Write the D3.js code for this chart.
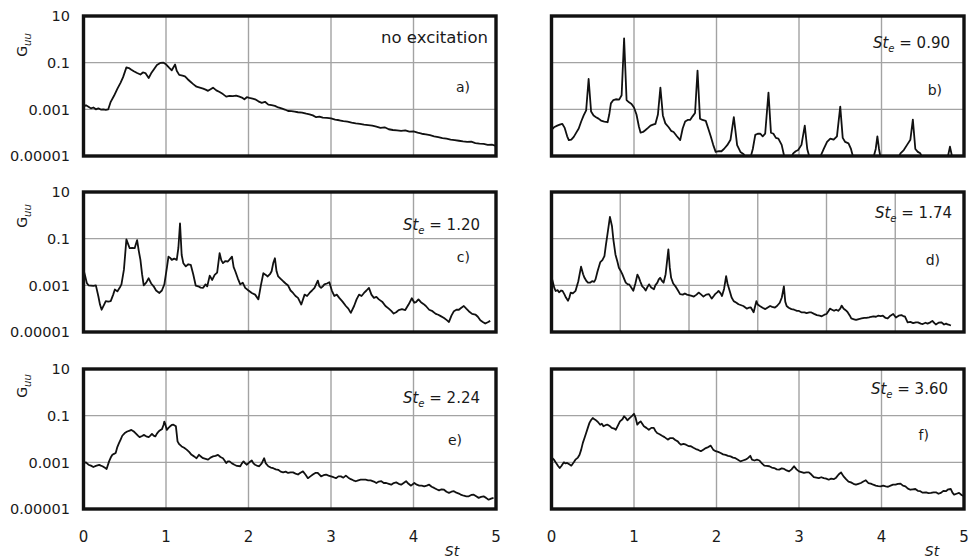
<!DOCTYPE html>
<html>
<head>
<meta charset="utf-8">
<script src="https://cdnjs.cloudflare.com/ajax/libs/d3/7.8.5/d3.min.js"></script>
<style>
  body { margin: 0; background: #fff; }
  svg { display: block; }
  text { font-family: "DejaVu Sans", sans-serif; fill: #1a1a1a; }
</style>
</head>
<body>
<svg width="969" height="558"></svg>
<script>
// axis ticks
const yTicks = [10, 0.1, 0.001, 0.00001];
const yTickLabels = ["10", "0.1", "0.001", "0.00001"];
const xTicks = [0, 1, 2, 3, 4, 5];

// a) no excitation
const stA = [0,0.03,0.06,0.09,0.12,0.15,0.18,0.21,0.24,0.27,0.30,0.33,0.37,0.41,0.45,0.48,0.52,0.55,0.58,0.61,0.65,0.69,0.72,0.75,0.79,0.82,0.85,0.89,0.93,0.97,1.00,1.04,1.07,1.11,1.13,1.16,1.20,1.23,1.26,1.29,1.33,1.37,1.41,1.45,1.48,1.51,1.54,1.57,1.61,1.65,1.69,1.73,1.77,1.81,1.85,1.89,1.92,1.95,1.98,2.01,2.05,2.08,2.12,2.16,2.20,2.24,2.28,2.32,2.36,2.40,2.44,2.48,2.52,2.56,2.60,2.65,2.70,2.74,2.78,2.82,2.86,2.90,2.95,3.00,3.05,3.10,3.15,3.20,3.25,3.30,3.35,3.40,3.45,3.50,3.55,3.60,3.65,3.70,3.75,3.80,3.85,3.90,3.95,4.00,4.05,4.10,4.15,4.20,4.25,4.30,4.35,4.40,4.45,4.50,4.55,4.60,4.65,4.70,4.75,4.80,4.85,4.90,4.95,5.00];
const guuA = [0.0013,0.0015,0.0013,0.0011,0.0012,0.001,0.0011,0.00098,0.001,0.00095,0.001,0.0021,0.0038,0.0075,0.014,0.024,0.063,0.059,0.05,0.043,0.036,0.031,0.038,0.036,0.022,0.035,0.05,0.08,0.097,0.1,0.085,0.06,0.047,0.083,0.045,0.03,0.028,0.026,0.02,0.016,0.012,0.0093,0.0085,0.0077,0.007,0.0062,0.0072,0.0085,0.0065,0.0055,0.0045,0.0035,0.0038,0.0037,0.0039,0.0035,0.0032,0.0027,0.0033,0.0031,0.0029,0.0027,0.0022,0.0019,0.0021,0.0016,0.0015,0.0014,0.0012,0.0011,0.00098,0.00085,0.00083,0.0008,0.00075,0.00072,0.00065,0.00061,0.00055,0.00046,0.00049,0.00044,0.00043,0.00041,0.00036,0.00034,0.00031,0.0003,0.00027,0.00025,0.00024,0.00022,0.00021,0.0002,0.00018,0.00016,0.00017,0.00014,0.00013,0.000126,0.00012,0.000125,0.00011,0.000114,0.0001,0.00009,0.000085,0.000078,0.00007,0.000065,0.000058,0.000055,0.00005,0.000048,0.000045,0.000042,0.00004,0.000041,0.000036,0.000034,0.000033,0.00003,0.000031,0.000027];

// b) St_e = 0.90
const stB = [0,0.03,0.07,0.10,0.13,0.16,0.19,0.21,0.24,0.27,0.30,0.33,0.36,0.39,0.42,0.45,0.48,0.51,0.54,0.57,0.60,0.64,0.68,0.70,0.72,0.75,0.78,0.82,0.85,0.88,0.91,0.94,0.97,1.00,1.03,1.06,1.08,1.11,1.14,1.17,1.20,1.23,1.26,1.29,1.32,1.35,1.38,1.42,1.45,1.48,1.52,1.56,1.59,1.62,1.65,1.68,1.71,1.74,1.77,1.80,1.83,1.87,1.90,1.93,1.96,1.99,2.03,2.06,2.09,2.13,2.17,2.21,2.25,2.29,2.33,2.36,2.41,2.44,2.47,2.50,2.53,2.56,2.59,2.63,2.66,2.69,2.72,2.75,2.79,2.82,2.84,2.90,2.93,2.96,2.99,3.03,3.07,3.10,3.13,3.20,3.25,3.30,3.34,3.38,3.42,3.46,3.50,3.53,3.56,3.60,3.63,3.66,3.90,3.93,3.95,3.97,3.99,4.20,4.23,4.27,4.31,4.35,4.38,4.41,4.44,4.47,4.50,4.80,4.83,4.86,4.90];
const guuB = [0.00013,0.00017,0.0002,0.00022,0.00024,0.00016,0.00007,0.000048,0.00005,0.000066,0.0001,0.00015,0.0003,0.00055,0.0009,0.02,0.0008,0.00054,0.00046,0.0004,0.00033,0.0003,0.00028,0.0006,0.0018,0.0025,0.0027,0.0026,0.004,1.1,0.0025,0.002,0.0017,0.0012,0.0006,0.00018,0.0001,0.000107,0.00013,0.00016,0.0002,0.00022,0.00024,0.0006,0.0085,0.00055,0.00025,0.00017,0.00012,0.000107,0.00007,0.000048,0.00015,0.0003,0.00035,0.00035,0.0005,0.0007,0.046,0.0004,0.00035,0.00032,0.00015,0.00007,0.00003,0.000015,0.000016,0.000016,0.00002,0.000029,0.00005,0.00046,0.000029,0.000015,0.000012,0.000008,0.000008,0.00002,0.00008,0.00009,0.00009,0.00007,0.00009,0.0052,0.0001,0.00009,0.00006,0.000056,0.00003,0.00001,0.000008,0.000008,0.000013,0.000016,0.000018,0.00003,0.0002,0.00002,0.000008,0.000008,0.000008,0.00002,0.00004,0.000056,0.00005,0.00007,0.0013,0.00006,0.00004,0.000035,0.00002,0.000008,0.000008,0.00002,0.00007,0.00002,0.000008,0.000008,0.000013,0.000018,0.00003,0.00005,0.00036,0.00002,0.000015,0.000013,0.000008,0.000008,0.000025,0.000008,0.000008];

// c) St_e = 1.20
const stC = [0,0.02,0.04,0.06,0.09,0.12,0.15,0.18,0.20,0.22,0.25,0.27,0.30,0.33,0.36,0.38,0.41,0.44,0.46,0.49,0.52,0.54,0.56,0.59,0.62,0.65,0.67,0.69,0.71,0.73,0.76,0.79,0.82,0.85,0.88,0.92,0.95,0.98,1.01,1.03,1.05,1.07,1.10,1.13,1.15,1.17,1.19,1.21,1.24,1.27,1.30,1.33,1.36,1.39,1.42,1.45,1.48,1.50,1.53,1.56,1.59,1.62,1.65,1.67,1.69,1.72,1.75,1.78,1.80,1.82,1.84,1.87,1.90,1.93,1.96,2.00,2.04,2.08,2.12,2.15,2.18,2.21,2.23,2.26,2.28,2.30,2.32,2.34,2.36,2.39,2.42,2.45,2.48,2.51,2.54,2.57,2.60,2.64,2.68,2.71,2.74,2.77,2.80,2.84,2.86,2.88,2.90,2.92,2.95,2.98,3.01,3.04,3.07,3.10,3.14,3.18,3.21,3.24,3.28,3.31,3.34,3.37,3.40,3.43,3.46,3.49,3.52,3.55,3.58,3.62,3.66,3.70,3.73,3.76,3.79,3.82,3.86,3.90,3.94,3.98,4.01,4.03,4.06,4.09,4.12,4.15,4.19,4.23,4.27,4.30,4.33,4.37,4.40,4.43,4.46,4.49,4.52,4.55,4.58,4.61,4.64,4.67,4.71,4.75,4.78,4.81,4.84,4.87,4.90,4.93];
const guuC = [0.0047,0.0025,0.00126,0.001,0.00098,0.00095,0.001,0.00034,0.00015,0.00009,0.00015,0.00021,0.0002,0.00021,0.0004,0.00066,0.00055,0.0008,0.0011,0.0047,0.093,0.06,0.039,0.04,0.039,0.087,0.03,0.0123,0.003,0.001,0.0013,0.002,0.0012,0.00091,0.0006,0.00047,0.0006,0.0011,0.0055,0.017,0.015,0.0123,0.014,0.0123,0.04,0.45,0.02,0.0089,0.0065,0.008,0.0076,0.003,0.00098,0.00091,0.0008,0.00078,0.0011,0.0009,0.0026,0.0017,0.0028,0.0035,0.024,0.012,0.0089,0.011,0.0105,0.014,0.017,0.006,0.004,0.002,0.0011,0.0013,0.00078,0.0006,0.00047,0.0004,0.00025,0.001,0.0033,0.0028,0.0024,0.003,0.004,0.009,0.0145,0.004,0.0024,0.0019,0.0015,0.0012,0.00098,0.0006,0.00047,0.00035,0.00029,0.00015,0.0004,0.00035,0.00047,0.0006,0.00078,0.0016,0.0009,0.00078,0.0009,0.0011,0.0012,0.00135,0.0006,0.00035,0.0004,0.00029,0.0002,0.00013,0.0001,0.000066,0.00013,0.00025,0.0004,0.00035,0.00047,0.0006,0.00078,0.0004,0.00029,0.00032,0.00025,0.0002,0.00013,0.0001,0.00008,0.000062,0.00007,0.000087,0.000095,0.000087,0.00015,0.00028,0.00018,0.00019,0.00025,0.00019,0.00016,0.00013,0.00009,0.000078,0.00006,0.000055,0.000048,0.00004,0.000033,0.000027,0.00005,0.000078,0.00009,0.00009,0.00011,0.00013,0.0001,0.000078,0.00006,0.000056,0.000045,0.000032,0.000027,0.000023,0.000026,0.00003];

// d) St_e = 1.74 (this panel's axis runs 0..6)
const stD = [0,0.01,0.04,0.06,0.09,0.11,0.14,0.16,0.19,0.21,0.24,0.26,0.28,0.31,0.35,0.39,0.43,0.46,0.48,0.51,0.53,0.56,0.59,0.62,0.64,0.67,0.71,0.74,0.77,0.79,0.81,0.85,0.88,0.90,0.93,0.96,0.98,1.01,1.03,1.06,1.08,1.11,1.13,1.16,1.19,1.22,1.25,1.27,1.29,1.32,1.34,1.37,1.40,1.42,1.45,1.49,1.51,1.54,1.56,1.58,1.61,1.63,1.66,1.70,1.72,1.74,1.77,1.80,1.84,1.87,1.91,1.94,1.97,2.00,2.04,2.07,2.11,2.14,2.17,2.21,2.25,2.29,2.33,2.36,2.38,2.41,2.43,2.46,2.48,2.51,2.54,2.56,2.59,2.62,2.65,2.69,2.72,2.76,2.79,2.82,2.84,2.87,2.90,2.94,2.96,2.98,3.00,3.03,3.07,3.11,3.14,3.18,3.21,3.25,3.28,3.32,3.35,3.38,3.40,3.42,3.45,3.49,3.53,3.57,3.60,3.64,3.68,3.71,3.75,3.78,3.82,3.86,3.90,3.93,3.97,4.00,4.03,4.05,4.08,4.11,4.14,4.17,4.20,4.22,4.25,4.27,4.29,4.31,4.34,4.36,4.40,4.43,4.47,4.51,4.55,4.58,4.62,4.65,4.68,4.72,4.75,4.79,4.82,4.86,4.89,4.93,4.97,5.01,5.05,5.09,5.12,5.14,5.16,5.18,5.22,5.26,5.30,5.33,5.37,5.40,5.44,5.47,5.51,5.54,5.57,5.59,5.63,5.67,5.71,5.74,5.76,5.79,5.81];
const guuD = [0.0025,0.0018,0.0008,0.00057,0.00062,0.0005,0.0006,0.00058,0.0004,0.0003,0.00022,0.0003,0.00049,0.00045,0.00058,0.0015,0.0063,0.003,0.0021,0.0015,0.0013,0.0013,0.0015,0.0014,0.0018,0.004,0.0099,0.012,0.018,0.05,0.13,0.85,0.34,0.09,0.021,0.01,0.0057,0.004,0.003,0.0018,0.0013,0.0011,0.0011,0.0008,0.00058,0.0012,0.0029,0.0022,0.0015,0.0009,0.0008,0.0006,0.0009,0.0011,0.0008,0.00068,0.001,0.0013,0.0018,0.0021,0.0015,0.0013,0.003,0.035,0.006,0.0021,0.0012,0.00093,0.0006,0.00042,0.0004,0.00045,0.0004,0.00038,0.00035,0.00033,0.0004,0.00049,0.00042,0.00033,0.0004,0.00042,0.00027,0.00035,0.00042,0.0005,0.00058,0.00045,0.00035,0.0007,0.0025,0.0012,0.0006,0.0003,0.00021,0.00018,0.000155,0.00014,0.00013,0.000112,0.0001,0.00011,0.000112,0.00007,0.00012,0.00021,0.00015,0.00013,0.00011,0.000096,0.00011,0.00013,0.00012,0.000112,0.00013,0.00018,0.0003,0.0009,0.0002,0.00013,0.00011,0.000096,0.00009,0.000081,0.00008,0.000069,0.00007,0.000065,0.00007,0.000069,0.00006,0.000053,0.00005,0.000047,0.000055,0.000059,0.00008,0.0001,0.00009,0.000081,0.00009,0.000081,0.0001,0.000135,0.0001,0.00009,0.00008,0.000069,0.00005,0.000038,0.000035,0.000033,0.000036,0.000038,0.00004,0.00004,0.000042,0.000045,0.000047,0.000045,0.00005,0.000048,0.00005,0.00004,0.000038,0.00005,0.000059,0.000042,0.00005,0.000053,0.000047,0.000047,0.000035,0.000026,0.000027,0.000024,0.000026,0.000026,0.000023,0.000022,0.000025,0.000023,0.000026,0.00003,0.000024,0.000021,0.000025,0.000026,0.000021,0.000023,0.000021,0.00002,0.000019];

// e) St_e = 2.24
const stE = [0,0.03,0.06,0.09,0.12,0.15,0.19,0.21,0.23,0.26,0.28,0.31,0.33,0.35,0.37,0.39,0.41,0.43,0.45,0.47,0.50,0.53,0.56,0.58,0.61,0.63,0.66,0.68,0.71,0.73,0.76,0.79,0.81,0.83,0.85,0.87,0.89,0.91,0.93,0.95,0.97,0.98,0.99,1.01,1.03,1.05,1.07,1.09,1.11,1.12,1.14,1.16,1.19,1.22,1.25,1.28,1.31,1.34,1.37,1.40,1.43,1.45,1.48,1.51,1.54,1.57,1.60,1.63,1.66,1.69,1.71,1.73,1.75,1.77,1.80,1.83,1.86,1.90,1.92,1.94,1.96,1.98,2.01,2.04,2.06,2.08,2.11,2.13,2.16,2.19,2.21,2.24,2.27,2.30,2.33,2.36,2.39,2.42,2.45,2.48,2.51,2.54,2.57,2.60,2.63,2.66,2.69,2.72,2.75,2.78,2.81,2.84,2.86,2.88,2.91,2.94,2.97,3.00,3.03,3.06,3.09,3.12,3.15,3.18,3.21,3.24,3.27,3.30,3.33,3.36,3.39,3.42,3.45,3.48,3.52,3.55,3.58,3.61,3.64,3.67,3.70,3.73,3.76,3.79,3.82,3.85,3.88,3.91,3.94,3.97,4.01,4.04,4.07,4.10,4.13,4.16,4.19,4.22,4.25,4.28,4.31,4.34,4.37,4.40,4.43,4.46,4.49,4.52,4.55,4.58,4.61,4.64,4.67,4.70,4.73,4.76,4.79,4.82,4.85,4.88,4.91,4.94,4.97];
const guuE = [0.00093,0.001,0.00079,0.00072,0.00063,0.0007,0.00078,0.00072,0.00068,0.00058,0.00052,0.0011,0.0016,0.0021,0.0023,0.0025,0.0045,0.0066,0.0095,0.0138,0.018,0.021,0.023,0.0245,0.021,0.018,0.014,0.012,0.0135,0.015,0.013,0.012,0.014,0.0166,0.014,0.0129,0.017,0.021,0.024,0.026,0.04,0.056,0.045,0.0245,0.03,0.035,0.04,0.041,0.037,0.035,0.0079,0.006,0.0048,0.0042,0.0035,0.0028,0.0021,0.0018,0.0015,0.0021,0.0017,0.0015,0.0014,0.0013,0.0016,0.0018,0.0019,0.0021,0.0017,0.0015,0.0012,0.00093,0.0011,0.0011,0.0009,0.00079,0.0007,0.00068,0.0009,0.0011,0.0009,0.00079,0.001,0.0012,0.0009,0.00079,0.0007,0.00068,0.0009,0.0015,0.0009,0.00068,0.0006,0.00056,0.0005,0.00048,0.0004,0.00037,0.0004,0.00035,0.00037,0.00037,0.00033,0.0003,0.00036,0.00041,0.0003,0.00021,0.00025,0.0003,0.00035,0.00035,0.0003,0.00025,0.00028,0.0003,0.00027,0.00025,0.00023,0.00021,0.00025,0.00025,0.00022,0.00027,0.00022,0.00019,0.00017,0.000155,0.00017,0.00018,0.00018,0.00018,0.00017,0.00017,0.00015,0.00013,0.00015,0.000155,0.00013,0.00013,0.00012,0.00011,0.00013,0.000138,0.00012,0.00011,0.00013,0.000155,0.00012,0.0001,0.00013,0.00011,0.0001,0.0001,0.000093,0.0001,0.00011,0.00009,0.00008,0.00007,0.000063,0.00007,0.000067,0.000055,0.000049,0.000055,0.000058,0.00005,0.000046,0.00004,0.000037,0.000035,0.000035,0.00004,0.000041,0.000035,0.00003,0.000033,0.000035,0.00003,0.000025,0.000028,0.00003];

// f) St_e = 3.60
const stF = [0,0.01,0.03,0.05,0.08,0.10,0.12,0.15,0.17,0.19,0.22,0.24,0.27,0.29,0.32,0.34,0.36,0.38,0.40,0.42,0.44,0.46,0.48,0.50,0.52,0.54,0.56,0.59,0.61,0.63,0.66,0.68,0.71,0.73,0.76,0.78,0.80,0.83,0.86,0.88,0.90,0.92,0.94,0.96,0.98,1.00,1.02,1.04,1.06,1.08,1.10,1.12,1.15,1.18,1.21,1.24,1.26,1.28,1.31,1.34,1.37,1.41,1.44,1.47,1.50,1.53,1.55,1.57,1.60,1.63,1.66,1.69,1.72,1.75,1.78,1.81,1.84,1.87,1.90,1.93,1.96,1.99,2.02,2.05,2.08,2.11,2.14,2.17,2.20,2.23,2.26,2.29,2.32,2.35,2.38,2.41,2.43,2.46,2.49,2.52,2.55,2.58,2.61,2.64,2.67,2.70,2.73,2.76,2.79,2.82,2.85,2.88,2.91,2.94,2.97,3.00,3.03,3.06,3.09,3.12,3.15,3.18,3.21,3.24,3.27,3.30,3.33,3.36,3.39,3.42,3.45,3.48,3.51,3.54,3.57,3.60,3.63,3.66,3.69,3.72,3.75,3.78,3.81,3.84,3.87,3.90,3.93,3.96,3.99,4.02,4.05,4.08,4.11,4.14,4.17,4.20,4.23,4.26,4.29,4.32,4.35,4.38,4.41,4.44,4.47,4.50,4.54,4.57,4.60,4.63,4.66,4.69,4.72,4.75,4.78,4.81,4.84,4.86,4.88,4.91,4.94,4.97,5.00];
const guuF = [0.0012,0.0015,0.0013,0.001,0.0007,0.00057,0.0007,0.001,0.0009,0.00094,0.0008,0.00072,0.001,0.0013,0.0016,0.0021,0.0035,0.0068,0.011,0.018,0.03,0.049,0.065,0.079,0.07,0.063,0.055,0.041,0.045,0.035,0.04,0.041,0.035,0.03,0.028,0.025,0.035,0.057,0.07,0.094,0.08,0.063,0.075,0.087,0.1,0.12,0.08,0.041,0.05,0.057,0.045,0.035,0.03,0.025,0.03,0.03,0.022,0.018,0.016,0.0138,0.012,0.0094,0.011,0.011,0.009,0.0079,0.0065,0.0057,0.0062,0.0057,0.005,0.0049,0.0042,0.0037,0.0034,0.003,0.0035,0.0041,0.0045,0.0052,0.0035,0.003,0.0028,0.0025,0.0022,0.0021,0.0019,0.0018,0.0016,0.0015,0.0013,0.0011,0.0012,0.0013,0.0015,0.0019,0.0013,0.0012,0.0013,0.0012,0.0009,0.00072,0.0007,0.00068,0.0006,0.00057,0.0005,0.00049,0.00055,0.00052,0.00045,0.00041,0.0005,0.00068,0.0005,0.00041,0.00038,0.00035,0.00037,0.00037,0.0003,0.00023,0.00022,0.00021,0.00023,0.00021,0.0002,0.00018,0.0002,0.00019,0.00022,0.0003,0.00037,0.00025,0.00019,0.00015,0.000138,0.00012,0.00011,0.00012,0.00013,0.00015,0.00017,0.00013,0.000123,0.00011,0.0001,0.000095,0.000093,0.0001,0.000093,0.00009,0.0001,0.00011,0.00011,0.00012,0.000123,0.0001,0.000093,0.000075,0.000067,0.00007,0.000072,0.00006,0.000058,0.00005,0.000052,0.000048,0.000049,0.000052,0.000052,0.000045,0.000049,0.00006,0.000058,0.00007,0.000072,0.00005,0.000041,0.000045,0.000049,0.00004,0.000035];

// panel layout
const cols = [[83.5, 496], [551.5, 964]];
const rows = [[16, 156], [192, 332], [369, 509]];

const panels = [
  { st: stA, g: guuA, col: 0, row: 0, xMax: 5, noteText: "no excitation", nx: 488, ny: 37, tag: "a)", tx: 470, ty: 87 },
  { st: stB, g: guuB, col: 1, row: 0, xMax: 5, note: "0.90", nx: 950, ny: 43, tag: "b)", tx: 942, ty: 90 },
  { st: stC, g: guuC, col: 0, row: 1, xMax: 5, note: "1.20", nx: 480, ny: 225, tag: "c)", tx: 470, ty: 257 },
  { st: stD, g: guuD, col: 1, row: 1, xMax: 6, note: "1.74", nx: 952, ny: 213, tag: "d)", tx: 940, ty: 260 },
  { st: stE, g: guuE, col: 0, row: 2, xMax: 5, note: "2.24", nx: 480, ny: 398, tag: "e)", tx: 462, ty: 440 },
  { st: stF, g: guuF, col: 1, row: 2, xMax: 5, note: "3.60", nx: 948, ny: 389, tag: "f)", tx: 929, ty: 435 }
];
const gLabelY = [45, 216, 386];

const svg = d3.select("svg");
const defs = svg.append("defs");

panels.forEach((p, i) => {
  const [x0, x1] = cols[p.col];
  const [y0, y1] = rows[p.row];

  const x = d3.scaleLinear().domain([0, p.xMax]).range([x0, x1]);
  const y = d3.scaleLog().domain([0.00001, 10]).range([y1, y0]);

  const g = svg.append("g");

  // grid
  g.selectAll(".vgrid")
    .data(d3.range(1, p.xMax))
    .enter().append("line")
    .attr("x1", d => x(d)).attr("x2", d => x(d))
    .attr("y1", y0).attr("y2", y1)
    .attr("stroke", "#a3a3a3").attr("stroke-width", 1.4);

  g.selectAll(".hgrid")
    .data([0.1, 0.001])
    .enter().append("line")
    .attr("x1", x0).attr("x2", x1)
    .attr("y1", d => y(d)).attr("y2", d => y(d))
    .attr("stroke", "#a3a3a3").attr("stroke-width", 1.4);

  // clip
  defs.append("clipPath").attr("id", "clip" + i)
    .append("rect")
    .attr("x", x0).attr("y", y0)
    .attr("width", x1 - x0).attr("height", y1 - y0);

  const line = d3.line()
    .x((d, k) => x(p.st[k]))
    .y(d => y(d));

  g.append("path")
    .datum(p.g)
    .attr("clip-path", "url(#clip" + i + ")")
    .attr("fill", "none")
    .attr("stroke", "#111")
    .attr("stroke-width", 1.8)
    .attr("stroke-linejoin", "round")
    .attr("d", line);

  // frame
  g.append("rect")
    .attr("x", x0).attr("y", y0)
    .attr("width", x1 - x0).attr("height", y1 - y0)
    .attr("fill", "none").attr("stroke", "#111").attr("stroke-width", 3.4);

  // y ticks on left column
  if (p.col === 0) {
    g.selectAll(".ytick")
      .data(yTicks)
      .enter().append("text")
      .attr("x", 70)
      .attr("y", d => y(d))
      .attr("dy", "0.36em")
      .attr("text-anchor", "end")
      .style("font-size", "14.5px")
      .text((d, k) => yTickLabels[k]);

    const gl = g.append("text")
      .attr("transform", `translate(27,${gLabelY[p.row]}) rotate(-90)`)
      .attr("text-anchor", "middle")
      .style("font-size", "14px");
    gl.append("tspan").text("G");
    gl.append("tspan").attr("dy", 4).style("font-size", "10px").style("font-style", "italic").text("uu");
  }

  // x ticks on bottom row
  if (p.row === 2) {
    g.selectAll(".xtick")
      .data(xTicks)
      .enter().append("text")
      .attr("x", d => x(d))
      .attr("y", 537)
      .attr("dy", "0.36em")
      .attr("text-anchor", "middle")
      .style("font-size", "15px")
      .text(d => d);

    g.append("text")
      .attr("x", p.col === 0 ? 452 : 932)
      .attr("y", 556)
      .attr("text-anchor", "middle")
      .style("font-size", "14px")
      .style("font-style", "italic")
      .text("St");
  }

  // annotation
  if (p.noteText) {
    g.append("text")
      .attr("x", p.nx).attr("y", p.ny).attr("dy", "0.36em")
      .attr("text-anchor", "end")
      .style("font-size", "16.5px")
      .text(p.noteText);
  } else {
    const t = g.append("text")
      .attr("x", p.nx).attr("y", p.ny).attr("dy", "0.36em")
      .attr("text-anchor", "end")
      .style("font-size", "15px");
    t.append("tspan").style("font-style", "italic").text("St");
    t.append("tspan").attr("dy", 4).style("font-size", "10px").style("font-style", "italic").text("e");
    t.append("tspan").attr("dy", -4).text(" = " + p.note);
  }

  g.append("text")
    .attr("x", p.tx).attr("y", p.ty).attr("dy", "0.36em")
    .attr("text-anchor", "end")
    .style("font-size", "14px")
    .text(p.tag);
});
</script>
</body>
</html>
